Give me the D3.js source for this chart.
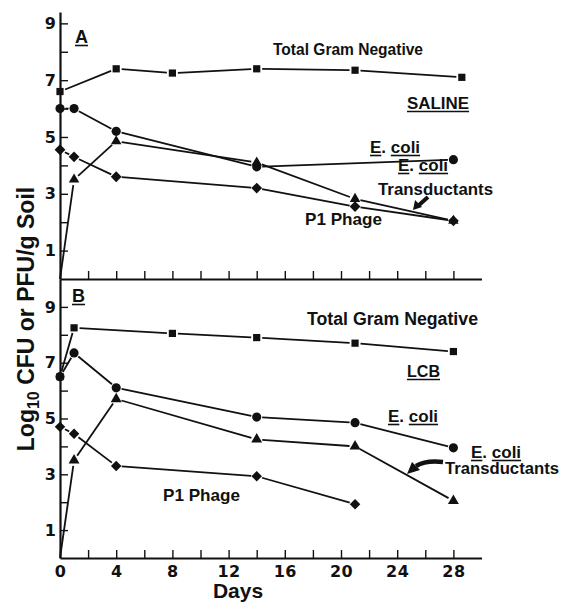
<!DOCTYPE html>
<html>
<head>
<meta charset="utf-8">
<script src="https://cdn.jsdelivr.net/npm/d3@7"></script>
<style>
    html, body { margin: 0; padding: 0; background: #fff; }
    svg { display: block; }
    .lbl { font-family: 'Liberation Sans', Arial, sans-serif; font-weight: bold; fill: #111; }
    .tick text { font-family: 'DejaVu Sans', sans-serif; font-weight: bold; fill: #111; }
</style>
</head>
<body>
<svg id="chart" width="561" height="603"></svg>
<script>
// days on the x axis
var xTicks = [0, 2, 4, 6, 8, 10, 12, 14, 16, 18, 20, 22, 24, 26, 28];
var xLabels = [0, 4, 8, 12, 16, 20, 24, 28];
var yTicks = [1, 2, 3, 4, 5, 6, 7, 8, 9];
var yLabels = [1, 3, 5, 7, 9];

// panel A: saline
var totalDaysA = [0, 4, 8, 14, 21, 28.6];
var totalA = [6.6, 7.4, 7.25, 7.4, 7.35, 7.1];
var ecoliDaysA = [0, 1, 4, 14, 28];
var ecoliA = [6.0, 6.0, 5.2, 3.95, 4.2];
var transDaysA = [0, 1, 4, 14, 21, 28];
var transA = [0, 3.5, 4.85, 4.1, 2.82, 2.05];
var phageDaysA = [0, 1, 4, 14, 21, 28];
var phageA = [4.55, 4.3, 3.6, 3.2, 2.55, 2.05];

// panel B: LCB
var totalDaysB = [0, 1, 8, 14, 21, 28];
var totalB = [6.5, 8.25, 8.05, 7.9, 7.7, 7.4];
var ecoliDaysB = [0, 1, 4, 14, 21, 28];
var ecoliB = [6.5, 7.35, 6.1, 5.05, 4.85, 3.95];
var transDaysB = [0, 1, 4, 14, 21, 28];
var transB = [0, 3.5, 5.7, 4.25, 4.0, 2.05];
var phageDaysB = [0, 1, 4, 14, 21];
var phageB = [4.7, 4.45, 3.3, 2.93, 1.93];

var svg = d3.select('#chart');

var x = d3.scaleLinear().domain([0, 30]).range([60, 481.5]);
var yA = d3.scaleLinear().domain([0, 9.4]).range([279, 12]);
var yB = d3.scaleLinear().domain([0, 10]).range([558, 279]);

function zip(days, vals) {
    return days.map(function (d, i) { return { d: d, v: vals[i] }; });
}

function drawAxes(y, yBase, showX) {
    var ax = svg.append('g')
        .attr('transform', 'translate(0,' + yBase + ')')
        .call(d3.axisBottom(x)
            .tickValues(xTicks)
            .tickSize(-8)
            .tickSizeOuter(0)
            .tickPadding(8)
            .tickFormat(function (d) { return showX && xLabels.indexOf(d) >= 0 ? d : ''; }));
    ax.select('.domain').attr('stroke-width', 2.2).attr('stroke', '#111');
    ax.selectAll('.tick line').attr('stroke-width', 1.4).attr('stroke', '#111');
    ax.selectAll('.tick text').attr('font-size', 16).attr('letter-spacing', 0.5);

    var ay = svg.append('g')
        .attr('transform', 'translate(60,0)')
        .call(d3.axisLeft(y)
            .tickValues(yTicks)
            .tickSize(-8)
            .tickSizeOuter(0)
            .tickPadding(4)
            .tickFormat(function (d) { return yLabels.indexOf(d) >= 0 ? d : ''; }));
    ay.select('.domain').attr('stroke-width', 2.2).attr('stroke', '#111');
    ay.selectAll('.tick line').attr('stroke-width', 1.4).attr('stroke', '#111');
    ay.selectAll('.tick text').attr('font-size', 16);
}

// line segments with small gaps round the markers
function drawSeries(pts, y, shape, size) {
    var g = svg.append('g');
    var gap = 5.5;
    for (var i = 0; i < pts.length - 1; i++) {
        var x1 = x(pts[i].d), y1 = y(pts[i].v);
        var x2 = x(pts[i + 1].d), y2 = y(pts[i + 1].v);
        var len = Math.hypot(x2 - x1, y2 - y1);
        var ux = (x2 - x1) / len, uy = (y2 - y1) / len;
        var g1 = pts[i].v > 0 ? gap : 0;
        g.append('line')
            .attr('x1', x1 + ux * g1).attr('y1', y1 + uy * g1)
            .attr('x2', x2 - ux * gap).attr('y2', y2 - uy * gap)
            .attr('stroke', '#111')
            .attr('stroke-width', 1.8);
    }
    g.selectAll('path.m')
        .data(pts.filter(function (p) { return p.v > 0; }))
        .enter()
        .append('path')
        .attr('class', 'm')
        .attr('d', d3.symbol().type(shape).size(size))
        .attr('transform', function (p) { return 'translate(' + x(p.d) + ',' + y(p.v) + ')'; })
        .attr('fill', '#111');
}

var diamond = d3.symbolDiamond2 || d3.symbolDiamond;

function label(txt, xp, yp, size, width, underline) {
    var t = svg.append('text')
        .attr('class', 'lbl')
        .attr('x', xp)
        .attr('y', yp)
        .attr('font-size', size)
        .text(txt);
    if (width) {
        t.attr('textLength', width).attr('lengthAdjust', 'spacingAndGlyphs');
    }
    if (underline) {
        svg.append('line')
            .attr('x1', xp).attr('x2', xp + (width || t.node().getComputedTextLength()))
            .attr('y1', yp + 2.5).attr('y2', yp + 2.5)
            .attr('stroke', '#111').attr('stroke-width', 1.6);
    }
    return t;
}

// E. coli with E and coli underlined
function ecoliLabel(xp, yp, size) {
    var t = svg.append('text')
        .attr('class', 'lbl')
        .attr('x', xp)
        .attr('y', yp)
        .attr('font-size', size);
    t.append('tspan').text('E');
    t.append('tspan').text('. ');
    t.append('tspan').text('coli');
    var n = t.node();
    var wE = n.getSubStringLength(0, 1);
    var s = n.getSubStringLength(0, 3);
    var wc = n.getSubStringLength(3, 4);
    svg.append('line')
        .attr('x1', xp).attr('x2', xp + wE)
        .attr('y1', yp + 2.5).attr('y2', yp + 2.5)
        .attr('stroke', '#111').attr('stroke-width', 1.6);
    svg.append('line')
        .attr('x1', xp + s).attr('x2', xp + s + wc)
        .attr('y1', yp + 2.5).attr('y2', yp + 2.5)
        .attr('stroke', '#111').attr('stroke-width', 1.6);
}

drawAxes(yA, 279, false);
drawAxes(yB, 558, true);

// panel A
drawSeries(zip(totalDaysA, totalA), yA, d3.symbolSquare, 52);
drawSeries(zip(ecoliDaysA, ecoliA), yA, d3.symbolCircle, 66);
drawSeries(zip(transDaysA, transA), yA, d3.symbolTriangle, 48);
drawSeries(zip(phageDaysA, phageA), yA, diamond, 74);

// panel B
drawSeries(zip(totalDaysB, totalB), yB, d3.symbolSquare, 52);
drawSeries(zip(ecoliDaysB, ecoliB), yB, d3.symbolCircle, 66);
drawSeries(zip(transDaysB, transB), yB, d3.symbolTriangle, 52);
drawSeries(zip(phageDaysB, phageB), yB, diamond, 70);

// panel letters and notes
label('A', 75, 43, 18, null, true);
label('B', 72, 302, 18, null, true);

label('Total Gram Negative', 273, 55, 16, 150);
label('SALINE', 407, 109, 16, 62, true);
ecoliLabel(370, 153, 17);
ecoliLabel(398, 171, 17);
label('Transductants', 378, 195, 16.5, 115);
label('P1 Phage', 305, 225, 17, 77);

label('Total Gram Negative', 307, 325, 17.5, 171);
label('LCB', 407, 377, 16.5, 33, true);
ecoliLabel(471, 458, 17);
label('Transductants', 445, 474, 16.5, 114);
ecoliLabel(388, 422, 17);
label('P1 Phage', 163, 501, 17, 77);

// arrows
svg.append('line')
    .attr('x1', 428).attr('y1', 197).attr('x2', 419).attr('y2', 205)
    .attr('stroke', '#111').attr('stroke-width', 4);
svg.append('path')
    .attr('d', 'M413,210 L415,200 L422,207 Z')
    .attr('fill', '#111');

svg.append('path')
    .attr('d', 'M443,462 Q426,460 416,466')
    .attr('fill', 'none')
    .attr('stroke', '#111')
    .attr('stroke-width', 4.5);
svg.append('path')
    .attr('d', 'M407,474 L412,462 L420,470 Z')
    .attr('fill', '#111');

// axis titles
svg.append('text')
    .attr('class', 'lbl')
    .attr('font-size', 21)
    .attr('text-anchor', 'middle')
    .attr('x', 238)
    .attr('y', 598)
    .text('Days');

var yt = svg.append('text')
    .attr('class', 'lbl')
    .attr('font-size', 23)
    .attr('text-anchor', 'middle')
    .attr('transform', 'translate(34,319) rotate(-90)');
yt.append('tspan').text('Log');
yt.append('tspan').attr('font-size', 16).attr('dy', 5).text('10');
yt.append('tspan').attr('dy', -5).text(' CFU or PFU/g Soil');
</script>
</body>
</html>
